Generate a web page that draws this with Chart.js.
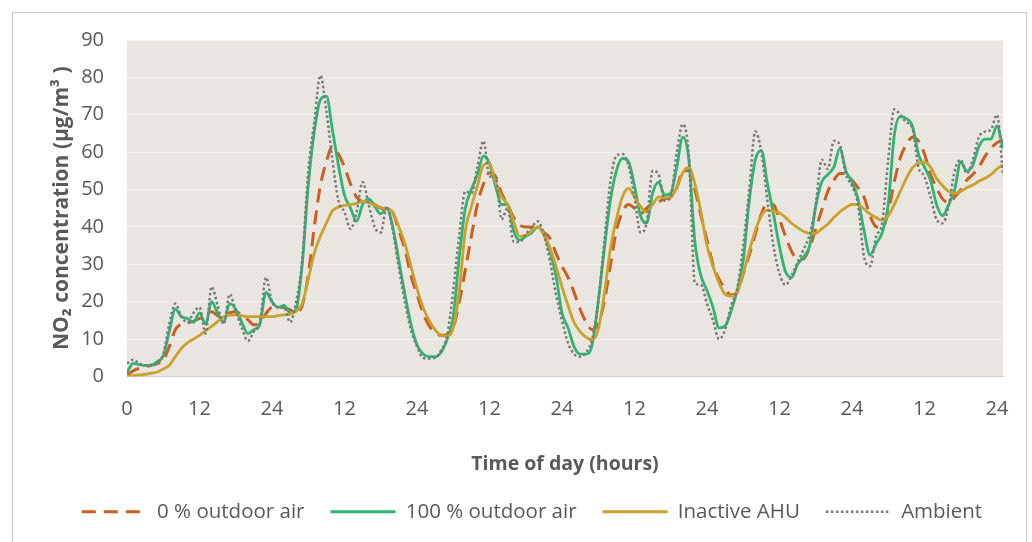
<!DOCTYPE html>
<html><head><meta charset="utf-8">
<script src="https://cdn.jsdelivr.net/npm/chart.js@4.4.0/dist/chart.umd.min.js"></script>
<style>
html,body{margin:0;padding:0;background:#fff;}
#wrap{position:relative;width:1032px;height:542px;overflow:hidden;}
#frame{position:absolute;left:12px;top:12px;width:1015px;height:545px;border:1px solid #C9C9C9;box-sizing:border-box;}
canvas{position:absolute;left:0;top:0;}
</style></head><body>
<div id="wrap"><div id="frame"></div><canvas id="c" width="1032" height="542"></canvas></div>
<script>
const hours = [0,1,2,3,4,5,6,7,8,9,10,11,12,13,14,15,16,17,18,19,20,21,22,23,24,25,26,27,28,29,30,31,32,33,34,35,36,37,38,39,40,41,42,43,44,45,46,47,48,49,50,51,52,53,54,55,56,57,58,59,60,61,62,63,64,65,66,67,68,69,70,71,72,73,74,75,76,77,78,79,80,81,82,83,84,85,86,87,88,89,90,91,92,93,94,95,96,97,98,99,100,101,102,103,104,105,106,107,108,109,110,111,112,113,114,115,116,117,118,119,120,121,122,123,124,125,126,127,128,129,130,131,132,133,134,135,136,137,138,139,140,141,142,143,144,145];

const xTickValues = [0,12,24,36,48,60,72,84,96,108,120,132,144];
const xTickLabels = ['0','12','24','12','24','12','24','12','24','12','24','12','24'];
const yTickValues = [0,10,20,30,40,50,60,70,80,90];

const seriesNames = ['0 % outdoor air','100 % outdoor air','Inactive AHU','Ambient'];

const outdoor0 = [0.3,1.5,2.2,2.6,3,3.5,4.3,8,12.5,14,
14.3,14.8,15.5,16.5,17.3,16.3,15.8,17,17.3,16.5,
15.2,13.8,14.5,16.8,18.5,18.6,18.4,17.8,17,19,
27,40,51,57.5,61.4,59.5,56,51.5,48,46.8,
46.4,46,45,44.5,43.8,39,34,27,22,17,
13.6,11.8,11,11.2,13,20,28.5,37.5,46,51.5,
54.5,53.5,49,46,42.5,40.5,40,40,40,38.5,
37,33,29.5,26.5,22.5,18,14.5,12.5,14,20,
29.5,39,44,46,45,43.5,45,46.3,46.8,47.5,
48,50.5,55,55,50,43,36.5,30,26,23.5,
21.8,22.5,27.5,32.5,38,43.5,46.3,46,42,37.5,
33.5,31.3,31.5,34.5,39.5,44.5,49.5,52.5,54.3,54.3,
52.5,50.5,48,43,40,39.8,44,52,58.5,62,
64,63,59.5,54,50.5,47.5,46.5,48,50,52.5,
54,56,58.8,61,62.5,63.2];

const outdoor100 = [1,3.5,3.2,3,3,4,5.5,12,18,16,
15.5,14.5,17,14,20,17,14.5,19.5,18,14.5,
11.5,12.5,14,22.5,20,18.5,19,17,18,30,
51,65.5,74,75,66,56.5,48.5,45,41.5,46,
47.5,45.5,43.5,45,40,31,22,14,8.5,6,
5.3,5.3,6.5,10,16,32,45,50,54,59,
57,51,46,46,39,36.5,37.5,38.5,40,38,
33.5,27,17,13,8,6,6,8.5,20,34,
47,55,58.3,57.5,51,43,41,49,52,48.5,
49,56,64,58,36,27,23,18.5,13,13.5,
17.5,23,31,47,58,60.5,51.6,43.5,34.7,28,
26.5,30,32,35,45.5,52,54,56,61,55,
52,47.5,39,32.5,35.5,38.5,46,64.5,69.5,69,
67,59.5,56,52.5,46,43,46,50,57.4,55,
56.5,61.5,63.5,63.5,67,61];

const inactiveAHU = [0,0.2,0.4,0.6,0.9,1.2,2,3,5.3,7.5,
9,10,11,12.2,13.4,14.7,16,16.4,16.5,16.3,
16,16,16,16,16,16.3,16.5,16.7,17.5,19.5,
26,33,37.5,41,44.3,45.3,45.8,46,46.3,46.8,
46.5,45.8,45.2,44.8,44,40,35.5,29.5,23.5,18.5,
15,12.5,11,10.8,13,23,39,45.4,51,56.5,
57,52,48,46,41.5,37.5,37.8,39,40,38,
34.5,29.5,24,19,14.5,12,10.5,9.8,12.5,22,
34,42,48,50.3,48,45.5,44,46,48,47.8,
48,50.5,54.5,56,51.5,44,35,29.5,25,22,
21.5,22.5,27.5,33.5,39,43,44.5,44.2,43.8,42.5,
41,39.8,38.8,38.3,38.3,39.5,40.8,42.5,44,45.2,
46,46,44.8,43.5,42.5,41.8,43,46,49.5,53,
55.8,57,57.3,56,53,51,49.5,49,49.5,50.5,
51.2,52.2,53,54,55.5,56.6];

const ambient = [3.5,4.5,3.5,3,3,3.5,6,14,19.5,16,
14.5,17,18.5,11.5,24,19,14,22,17.5,13,
9.5,12,14.5,26.5,20,18.5,18.5,14.5,20,31,
55,68,80.5,71,58,47,44,39.5,44,52,
46,40,38.5,45.5,39,29,20,12.5,8,5,
4.8,5,7,11,23,38,49.5,49,56,63,
53.5,53.5,42,45,36,36,38,40,41.5,38,
31,22,15,9,6,5.3,6.5,10,20,36,
52,59,59.5,56.5,48,38.5,41,55,54,47,
48,60,67.5,59,25,24.5,19.5,15,10,12.5,
19,23.5,35,50,65.5,60,47,35,27.5,24.5,
27,30.5,34,38,46,58,55.5,63,62,54,
51,46,32,29.5,37.5,41,58,71.5,70,68,
66.5,56,53.5,48,42,41,45.5,55,58,54.3,
58,64,65.5,66,70,54];

const legendOrder = [0,1,2,3];
const tickColor = '#595959';
Chart.defaults.font.family = "'Open Sans', 'DejaVu Sans', sans-serif";

const toPts = arr => arr.map((v,i)=>({x: hours[i], y: v}));

const plotBg = {
  id: 'plotBg',
  beforeDraw(chart){
    const {ctx, chartArea: a} = chart;
    ctx.save();
    ctx.fillStyle = '#ECE8E4';
    ctx.fillRect(a.left, a.top, a.right - a.left, a.bottom - a.top);
    const p = document.createElement('canvas');
    p.width = 4; p.height = 4;
    const pc = p.getContext('2d');
    pc.strokeStyle = 'rgba(190,180,170,0.22)';
    pc.lineWidth = 1;
    pc.beginPath(); pc.moveTo(0,0); pc.lineTo(4,4); pc.stroke();
    ctx.fillStyle = ctx.createPattern(p, 'repeat');
    ctx.fillRect(a.left, a.top, a.right - a.left, a.bottom - a.top);
    ctx.restore();
  }
};

const datasets = [
  {label: seriesNames[0], data: toPts(outdoor0), borderColor: '#CC5F1E', borderWidth: 3, borderDash: [14,8], order: 4},
  {label: seriesNames[1], data: toPts(outdoor100), borderColor: '#2DB571', borderWidth: 2.8, borderDash: [], order: 3},
  {label: seriesNames[2], data: toPts(inactiveAHU), borderColor: '#C9A12B', borderWidth: 2.8, borderDash: [], order: 2},
  {label: seriesNames[3], data: toPts(ambient), borderColor: '#7A7A7A', borderWidth: 2.5, borderDash: [2.5,2.5], order: 1}
];
datasets.forEach(d => { d.pointRadius = 0; d.fill = false; d.cubicInterpolationMode = 'monotone'; d.borderCapStyle = 'butt'; });

new Chart(document.getElementById('c'), {
  type: 'line',
  data: { datasets },
  plugins: [plotBg],
  options: {
    responsive: false,
    animation: false,
    devicePixelRatio: 1,
    layout: { padding: { left: 45, right: 13, top: 40, bottom: 10 } },
    plugins: {
      tooltip: { enabled: false },
      legend: {
        position: 'bottom',
        labels: {
          usePointStyle: true,
          pointStyleWidth: 65,
          padding: 26,
          color: tickColor,
          font: { size: 20.5 },
          generateLabels(chart){
            return legendOrder.map(i => {
              const ds = chart.data.datasets[i];
              return {
                text: ds.label, fillStyle: ds.borderColor, strokeStyle: ds.borderColor,
                lineWidth: ds.borderWidth, lineDash: ds.borderDash, lineCap: 'butt',
                pointStyle: 'line', datasetIndex: i, hidden: false, fontColor: tickColor
              };
            });
          }
        }
      }
    },
    scales: {
      x: {
        type: 'linear', min: 0, max: 145,
        afterBuildTicks(s){ s.ticks = xTickValues.map(v => ({value: v})); },
        afterFit(s){ s.height = 99; },
        ticks: {
          padding: 21, color: tickColor, font: { size: 20 }, maxRotation: 0, autoSkip: false,
          callback: (v) => xTickLabels[xTickValues.indexOf(v)]
        },
        grid: { display: false, drawTicks: false },
        border: { display: true, color: '#D3CFCB', width: 1 },
        title: { display: true, text: 'Time of day (hours)', color: tickColor, font: { size: 19.5, weight: 'bold' }, padding: { top: 0, bottom: -1 } }
      },
      y: {
        min: 0, max: 90,
        afterBuildTicks(s){ s.ticks = yTickValues.map(v => ({value: v})); },
        afterFit(s){ s.width = 82; },
        ticks: { padding: 23, color: tickColor, font: { size: 20 } },
        grid: { color: '#F3F1EF', lineWidth: 1, drawTicks: false },
        border: { display: false },
        title: { display: true, text: 'NO₂ concentration (µg/m³ )', color: tickColor, font: { size: 21, weight: 'bold' }, padding: { top: 4.4, bottom: 0 } }
      },
      yRight: {
        position: 'right', min: 0, max: 90,
        afterFit(s){ s.width = 16; },
        ticks: { display: false },
        grid: { display: false, drawTicks: false },
        border: { display: false },
        title: { display: false }
      }
    }
  }
});
</script>
</body></html>
